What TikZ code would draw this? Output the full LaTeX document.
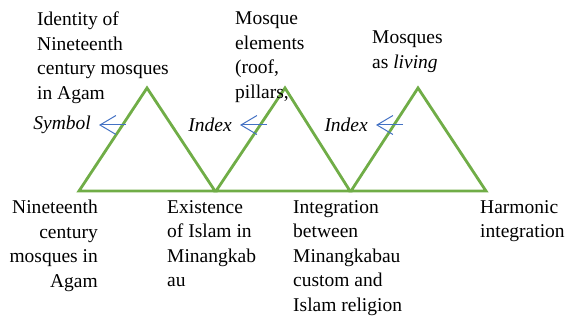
\documentclass[tikz,border=0pt]{standalone}
\usepackage{fontspec}
\setmainfont{Liberation Serif}
\usepackage{tikz}
\usetikzlibrary{arrows.meta}

\definecolor{trigreen}{HTML}{70AD47}
\definecolor{arrblue}{HTML}{4472C4}

\begin{document}
\begin{tikzpicture}[x=1pt,y=-1pt,
  tri/.style={draw=trigreen, line width=2.8pt, line join=miter},
  arr/.style={draw=arrblue, line width=1pt, -{Straight Barb[length=16pt,width=19pt,line width=1pt]}},
  txt/.style={inner sep=0pt, font=\fontsize{19.5}{24.5}\selectfont},
  sign/.style={inner xsep=8pt, inner ysep=0pt, font=\fontsize{19.5}{24.5}\selectfont\itshape, anchor=east}]

 \useasboundingbox (0,0) rectangle (569,320);

 % triangles
 \coordinate (l1) at (79,191);  \coordinate (p1) at (147,88);  \coordinate (r1) at (215,191);
 \coordinate (l2) at (216,191); \coordinate (p2) at (285,88);  \coordinate (r2) at (350,191);
 \coordinate (l3) at (351,191); \coordinate (p3) at (418,88);  \coordinate (r3) at (486,191);
 \draw[tri] (l1) -- (p1) -- (r1) -- cycle;
 \draw[tri] (l2) -- (p2) -- (r2) -- cycle;
 \draw[tri] (l3) -- (p3) -- (r3) -- cycle;

 % texts above
 \node[txt, anchor=north west, align=left] (top1) at (37,12) {Identity of\\Nineteenth\\century mosques\\in Agam};
 \node[txt, anchor=north west, align=left] (top2) at (235,12) {Mosque\\elements\\(roof,\\pillars,};
 \node[txt, anchor=north west, align=left] (top3) at (372,31) {Mosques\\as \textit{living}};

 % texts below
 \node[txt, anchor=north east, align=right] (bot1) at (98,200) {Nineteenth\\century\\mosques in\\Agam};
 \node[txt, anchor=north west, align=left] (bot2) at (167,200) {Existence\\of Islam in\\Minangkab\\au};
 \node[txt, anchor=north west, align=left] (bot3) at (293,200) {Integration\\between\\Minangkabau\\custom and\\Islam religion};
 \node[txt, anchor=north west, align=left] (bot4) at (480,200) {Harmonic\\integration};

 % signs
 \node[sign] (sym) at (99,125) {Symbol};
 \node[sign] (idx1) at (240,125) {Index};
 \node[sign] (idx2) at (376,125) {Index};
 \coordinate (a1) at (126,125);
 \coordinate (a2) at (267,125);
 \coordinate (a3) at (403,125);
 \draw[arr] (a1) -- (sym.east);
 \draw[arr] (a2) -- (idx1.east);
 \draw[arr] (a3) -- (idx2.east);

\end{tikzpicture}
\end{document}
